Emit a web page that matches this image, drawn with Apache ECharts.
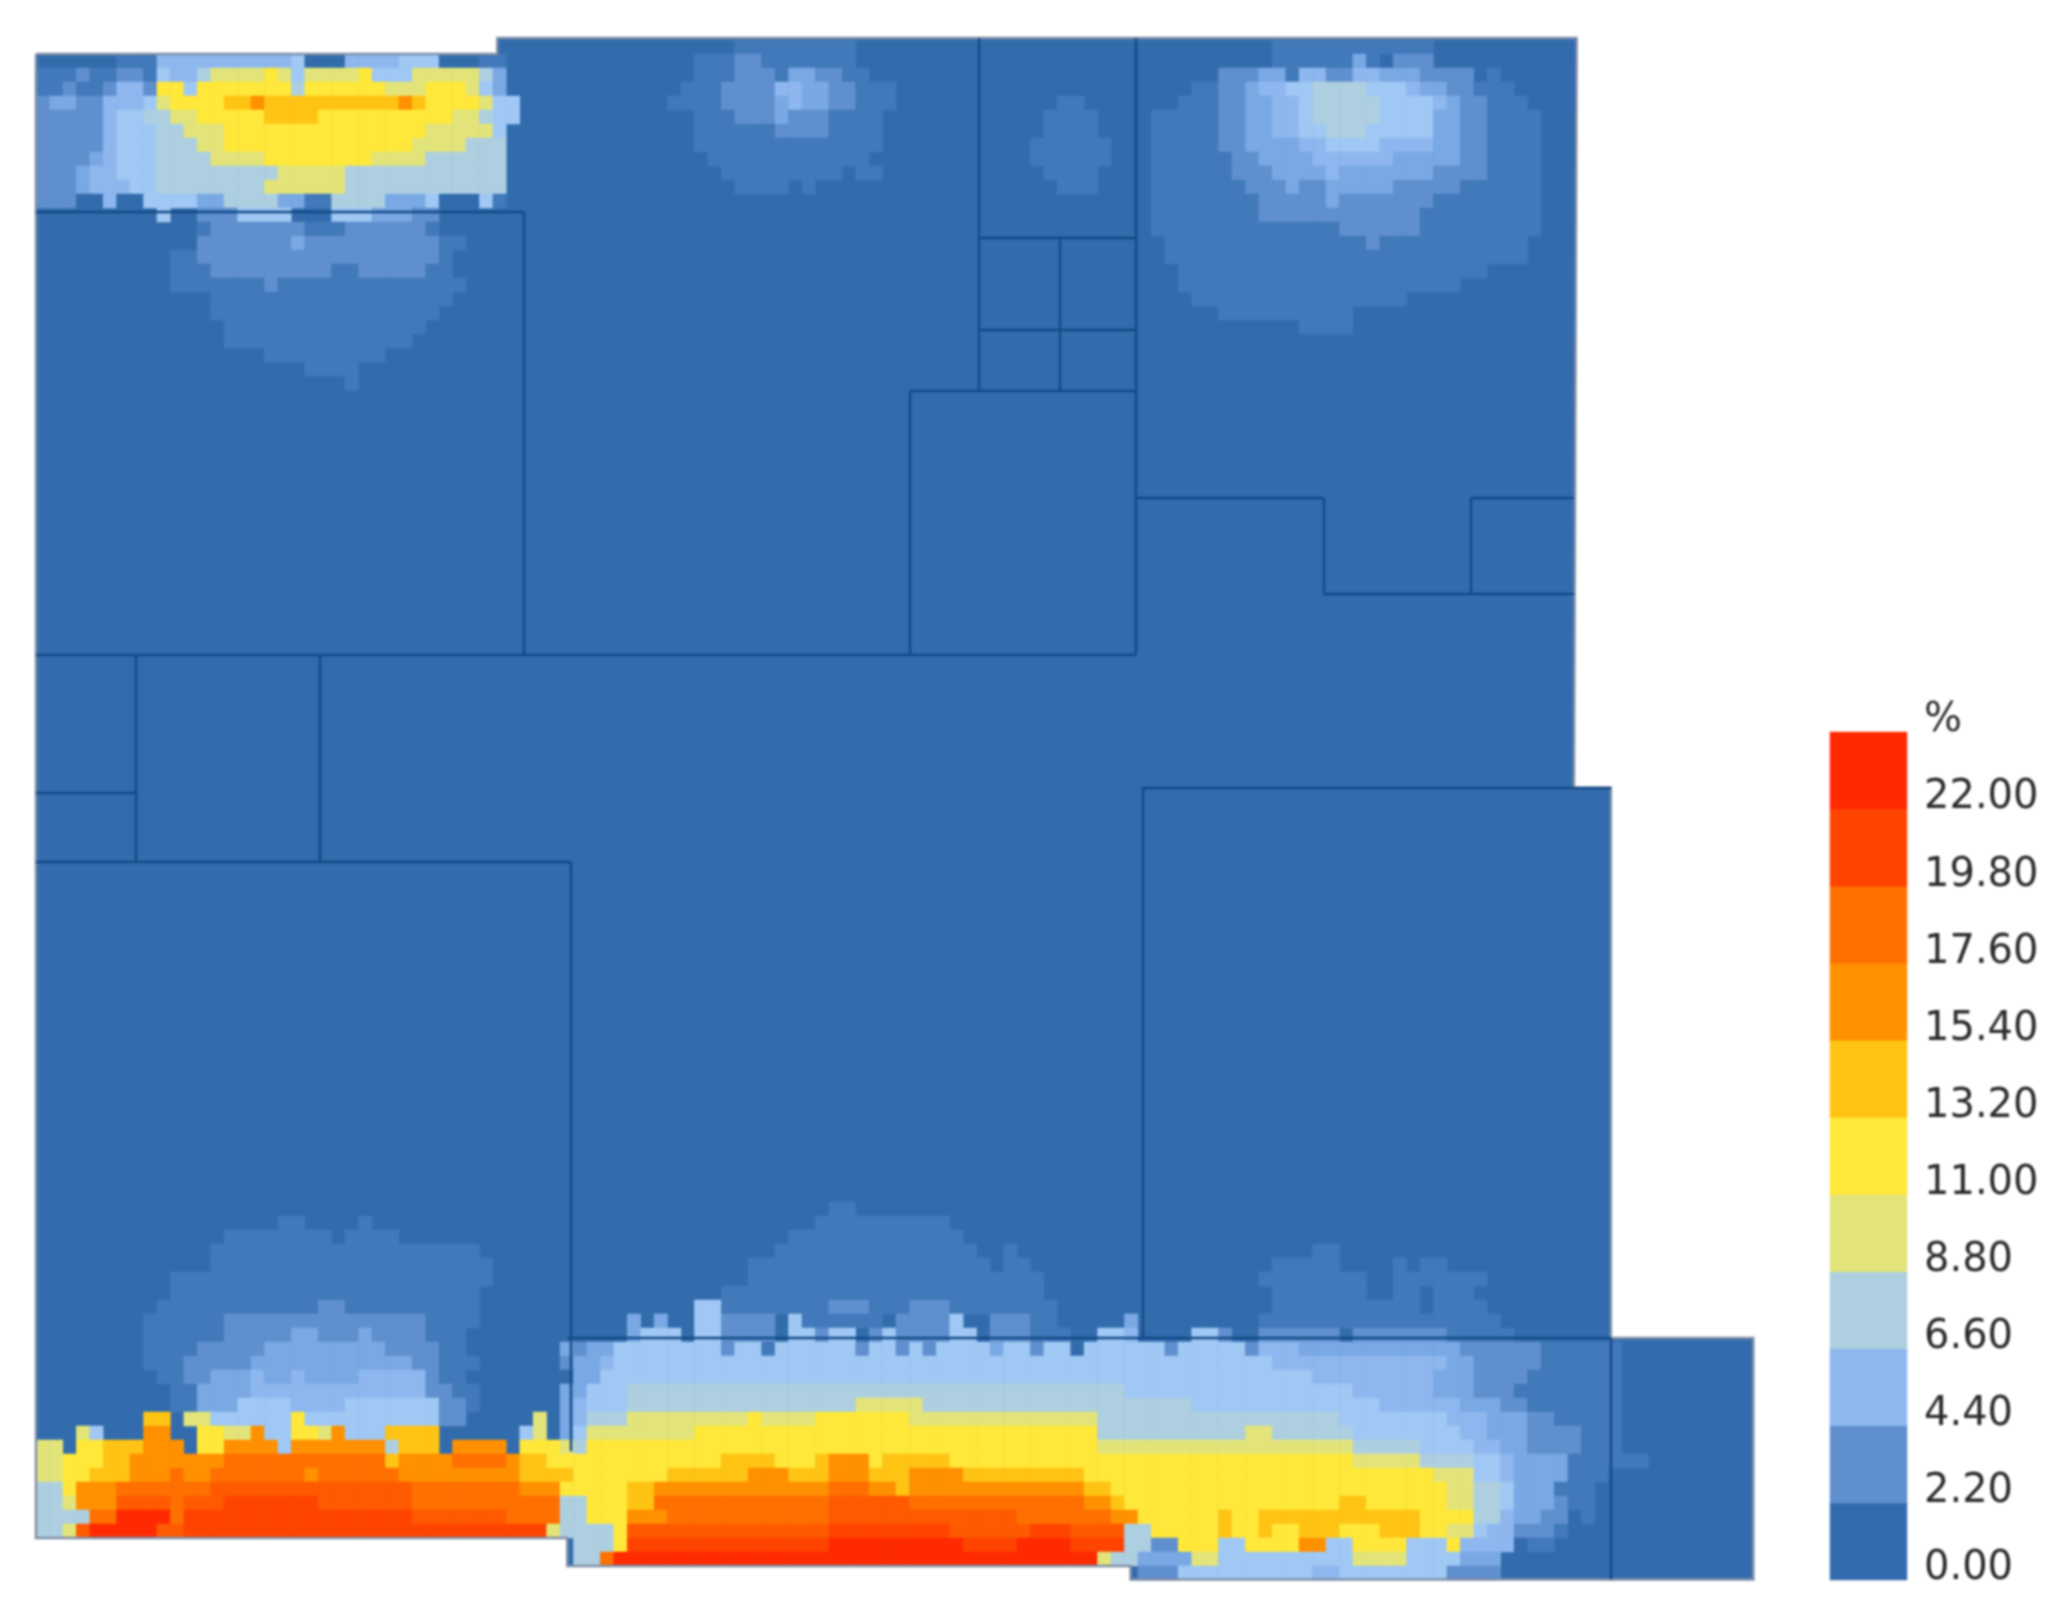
<!DOCTYPE html>
<html><head><meta charset="utf-8">
<script src="https://cdn.jsdelivr.net/npm/echarts@6/dist/echarts.min.js"></script>
<style>html,body{margin:0;background:#fff}#c{width:2069px;height:1611px;filter:blur(1.2px)}</style>
</head><body><div id="c"></div>
<script>
const gridColumnCount = 128;
const gridRowCount = 110;
const legendValues = [0, 2.2, 4.4, 6.6, 8.8, 11, 13.2, 15.4, 17.6, 19.8, 22];
const legendTickLabels = ["0.00","2.20","4.40","6.60","8.80","11.00","13.20","15.40","17.60","19.80","22.00","%"];
const levelCodes = "0123456789abcde";
const levelPercent = [0, 1.1, 2.2, 3.3, 4.4, 5.5, 6.6, 8.8, 11, 13.2, 15.4, 17.6, 18.7, 19.8, 22];
const levelColors = ["#336cad","#4279ba","#5f8fce","#79a8e4","#8db7ee","#a0c8f4","#aecfe0","#e2e47a","#ffe83a","#ffc413","#ff9000","#ff7000","#ff5a00","#ff4400","#ff2a00"];

// Each entry: "row|firstCol-lastCol:level ..."
const northWestRows = [
"1|0-5:0 6-8:1 9-18:4 19:5 20-22:0 23-26:4 27-29:5 30-32:0 33-34:1",
"2|0-2:1 3:2 4-5:1 6-7:2 8:1 9:5 10-11:4 12:6 13-16:7 17:8 18:7 19:5 20-23:7 24:8 25-27:5 28-32:7 33:6 34:3",
"3|0-1:1 2:2 3-4:1 5:2 6-7:4 8:2 9-10:8 11:5 12-18:8 19:6 20-25:8 26-28:7 29-31:8 32:7 33:5 34:3",
"4|0:2 1-2:3 3-4:2 5-7:4 8:5 9:7 10-13:8 14-15:9 16:a 17-26:9 27:a 28:9 29-32:8 33:7 34-35:5",
"5|0-4:2 5:4 6-7:5 8-9:6 10-11:7 12-16:8 17-20:9 21-30:8 31-32:7 33:6 34-35:5",
"6|0-4:2 5:4 6-8:5 9-10:6 11-13:7 14-28:8 29-33:7 34:5",
"7|0-4:2 5:4 6-8:5 9-11:6 12-13:7 14-27:8 28-31:7 32-34:6",
"8|0-3:2 4:3 5:4 6-8:5 9-12:6 13-16:7 17-24:8 25-28:7 29-34:6",
"9|0-2:2 3:3 4-5:4 6-8:5 9-17:6 18-22:7 23-34:6",
"10|0-2:2 3:3 4-6:4 7-8:5 9-16:6 17-22:7 23-34:6",
"11|0-2:2 3-4:0 5:4 6-7:0 8-11:5 12-13:3 14-17:6 18-19:3 20-21:1 22-25:6 26-28:3 29:5 30-32:0 33:5 34:1",
"12|9:5 12-14:2 15-18:5 22-24:5 25-27:3 28-29:2",
"13|12:1 13-19:2 20-22:1 23-28:2 29:1",
"14|12-18:2 19:3 20-29:2 30-31:1",
"15|10-11:1 12-29:2 30:1",
"16|10-12:1 13-21:2 22-23:1 24-28:2 29-30:1",
"17|10-16:1 17:2 18-31:1",
"18|13-30:1",
"19|13-29:1",
"20|14-28:1",
"21|14-27:1",
"22|17-25:1",
"23|20-23:1",
"24|23:1"
];
const northCentreRows = [
"0|52-60:1",
"1|49-51:1 52-53:2 54-60:1",
"2|49-51:1 52-54:2 55:1 56-57:3 58-59:2 60-61:1",
"3|48-50:1 51-54:2 55-56:4 57-58:3 59-60:2 61-63:1",
"4|47-50:1 51-54:2 55:3 56:4 57-58:3 59-60:2 61-63:1 76-77:1",
"5|49-51:1 52-54:2 55:3 56-58:2 59-62:1 75-78:1",
"6|49-54:1 55-58:2 59-62:1 75-78:1",
"7|49-62:1 74-79:1",
"8|50-61:1 74-79:1",
"9|51-59:1 61-62:1 75-78:1",
"10|52-55:1 57:1 76-78:1"
];
const northEastRows = [
"0|92-103:1",
"1|92-97:1 98:3 99:1 101-103:2",
"2|88-90:2 91-92:3 93:1 94-95:4 96-97:2 98-99:4 100-102:3 103-106:2 108:1",
"3|86-87:1 88-89:2 90:3 91-92:4 93-94:5 95-98:6 99-101:5 102:4 103-104:3 105-106:2 107-109:1",
"4|85-87:1 88-89:2 90-91:3 92-93:4 94:5 95-99:6 100-103:5 104:4 105:3 106-107:2 108-110:1",
"5|83-87:1 88-89:2 90-91:3 92-93:4 94:5 95-99:6 100-103:5 104-105:3 106-107:2 108-111:1",
"6|83-87:1 88-89:2 90-91:3 92-93:4 94-95:5 96-98:6 99-103:5 104-105:3 106-107:2 108-111:1",
"7|83-87:1 88-89:2 90-93:3 94-95:4 96-99:5 100-103:4 104-105:3 106-107:2 108-111:1",
"8|83-88:1 89-90:2 91-94:3 95-100:4 101-105:3 106-107:2 108-111:1",
"9|83-88:1 89-91:2 92-95:3 96:4 97-103:3 104-107:2 108-111:1",
"10|83-89:1 90-92:2 93:3 94-95:2 96-100:3 101-105:2 106-111:1",
"11|83-90:1 91-95:2 96:3 97-103:2 104-111:1",
"12|83-90:1 91-102:2 103-111:1",
"13|83-96:1 97-102:2 103-111:1",
"14|84-98:1 99:2 100-110:1",
"15|84-110:1",
"16|85-107:1",
"17|85-105:1",
"18|86-101:1",
"19|88-97:1",
"20|94-97:1"
];
const southWestRows = [
"84|18-19:1 24:1",
"85|14-21:1 23-26:1",
"86|13-32:1",
"87|13-33:1",
"88|10-33:1",
"89|10-32:1",
"90|9-20:1 21-22:2 23-32:1",
"91|8-13:1 14-28:2 29-32:1",
"92|8-13:1 14-18:2 19-20:3 21-23:2 24:3 25-28:2 29-31:1",
"93|8-11:1 12-16:2 17-25:3 26-29:2 30-31:1",
"94|8-10:1 11-15:2 16-27:3 28-29:2 30-32:1",
"95|9-10:1 11-12:2 13-15:3 16:4 17-18:3 19:4 20-23:3 24-28:4 29:2 30-31:1",
"96|10-11:1 12-15:3 16-28:4 29-30:2 31-32:1",
"97|10-11:1 12-14:3 15-18:5 19-22:4 23-29:5 30-31:2 32:1",
"98|8-9:9 11-12:7 13-18:5 19:8 20-29:5 30-31:2 37:7",
"99|3:7 4:5 8-9:a 12-13:8 14-15:7 16:a 17-18:5 19-20:8 21:7 22:a 23-25:5 26-29:9 36:5 37:7",
"100|0-1:7 3-4:8 5-7:9 8-10:a 12-13:8 14-17:a 18:5 19-25:a 26:6 27-29:9 31-34:a 36-38:8",
"101|0-1:7 2-4:8 5-6:9 7-13:a 14-25:b 26:9 27-30:a 31-34:b 35:a 36-37:9 38:8",
"102|0-1:7 2-3:8 4-6:9 7-9:a 10:b 11-12:a 13-19:b 20:a 21-26:b 27-35:a 36-38:9",
"103|0-1:6 2:8 3-5:a 6-12:b 13-27:c 28-35:b 36-38:a",
"104|0-1:6 2:7 3-5:a 6-9:c 10:b 11-13:c 14-20:d 21-27:c 28-38:b",
"105|0-3:6 4-5:b 6-9:e 10:b 11-27:d 28-34:c 35-38:b",
"106|0-1:6 2:7 3:c 4-8:e 9-10:c 11-37:d 38:7"
];
const southCentreRows = [
"83|59-60:1",
"84|58-67:1",
"85|56-68:1",
"86|55-69:1 72:1",
"87|53-70:1 72-73:1",
"88|53-74:1",
"89|51-74:1",
"90|49-50:5 51-58:1 59-61:2 62-64:1 65-67:2 68-75:1",
"91|44:3 46:3 49-50:5 51-54:2 56:5 57-62:1 64-67:2 68:5 71-73:2 74-75:1",
"92|44:3 45-47:5 49-50:5 51-54:2 56-57:5 58:2 59-60:5 62:2 63:5 64-67:2 68-69:5 71-73:2 74-76:1 79-80:5",
"93|39:3 40:2 41-42:3 43-50:5 51:2 52-53:5 54:1 55-60:5 61:2 62-63:5 64:2 65:5 66:2 67-70:5 71:3 72-73:5 74:2 75-76:5 77:0 78-80:5",
"94|39:2 40-41:3 42:4 43-80:5",
"95|39:0 40-41:3 42-80:5",
"96|39-40:3 41-43:5 44-80:6",
"97|39:3 40:4 41-43:5 44-60:6 61-65:7 66-80:6",
"98|39:3 40:4 41-43:6 44-52:7 53:8 54-57:7 58-64:8 65-78:7 79-80:6",
"99|39:3 40:5 41-48:7 49-78:8 79-80:6",
"100|39:7 40:6 41-78:8 79-80:7",
"101|39-50:8 51-54:9 55-57:8 58:9 59-61:a 62:8 63-67:9 68-80:8",
"102|39:9 40-46:8 47-52:9 53-55:a 56-58:9 59-61:a 62-64:9 65-68:a 69-77:9 78-80:8",
"103|39-43:8 44-45:9 46-58:a 59-61:b 62-63:a 64:9 65-77:a 78-79:9 80:8",
"104|39-40:6 41-43:8 44-45:9 46-58:b 59-64:c 65-77:b 78-79:a 80:9",
"105|39-40:6 41-43:8 44-46:a 47-58:b 59-72:c 73-79:b 80:a",
"106|39-42:6 43:8 44-58:c 59-67:d 68-73:c 74-76:d 77-80:c",
"107|40-42:6 43:8 44-58:d 59-68:e 69-72:d 73-76:e 77-80:d",
"108|40-41:6 42:b 43-78:e 79:7 80:6"
];
const southEastRows = [
"86|95-96:1",
"87|92-96:1 101:1 103-104:1",
"88|91-98:1 101-107:1",
"89|92-98:1 101-102:1 104-106:1",
"90|92-102:1 104-107:1",
"91|81:3 91-108:1",
"92|81:4 86-87:5 88:2 91-96:2 98-104:2 105-109:1",
"93|81-83:5 84:2 85-89:5 90:2 91-93:4 94-105:3 106-111:2 112-117:1",
"94|81-91:5 92-104:4 105-106:3 107-111:2 112-117:1",
"95|81-94:5 95-103:4 104-106:3 107-110:2 111-117:1",
"96|81-97:5 98-103:4 104-106:3 107-109:2 110-117:1",
"97|81-85:6 86-99:5 100-105:4 106-108:3 109-110:2 111-117:1",
"98|81-96:6 97-104:5 105-107:4 108-110:3 111-112:2 113-117:1",
"99|81-89:6 90-91:7 92-97:6 98-105:5 106-107:4 108-110:3 111-114:2 115-117:1",
"100|81-97:7 98-102:6 103-106:5 107-108:4 109-110:3 111-114:2 115-117:1",
"101|81-97:8 98-102:7 103-106:6 107-108:5 109:4 110-113:3 114-119:1",
"102|81-103:8 104-106:7 107-108:5 109:4 110-113:3 114-116:1",
"103|81-104:8 105-106:7 107-108:6 109:5 110-112:3 113-115:1",
"104|81-96:8 97-98:9 99-104:8 105-106:7 107-108:6 109:5 110-112:3 113:2 114-115:1",
"105|81:a 82-87:8 88:9 89-90:8 91-102:9 103-106:8 107-108:6 109:4 110-111:3 112-113:2 115:1",
"106|81-82:6 83-87:8 88:9 89-90:8 91:9 92-93:8 94-96:9 97-99:8 100-102:9 103-104:8 105-106:7 107:5 108-109:4 110-112:2 113:1",
"107|81-82:6 83-84:2 85-87:8 88-89:5 90-93:8 94-95:a 96-97:5 98-101:8 102-104:5 105:8 106-109:4 110:0 111-112:1",
"108|81:6 82-85:3 86-87:7 88-97:5 98-101:7 102-105:5 106-108:3",
"109|82-84:2 85-94:5 95-96:4 97-104:5 105-108:2"
];

// Plate outline and inner zone walls, in grid-cell units
const plateOutline = [[0,1],[34.33,1],[34.33,-0.14],[114.65,-0.14],[114.45,53.41],[117.2,53.41],[117.2,92.71],[127.8,92.71],[127.8,109.96],[81.46,109.96],[81.46,109],[39.54,109],[39.54,107],[0,107],[0,1]];
const zoneWalls = [
[0,12.3,36.3,12.3],[36.3,12.3,36.3,43.9],[0,43.9,81.85,43.9],[65.06,25.04,65.06,43.9],[65.06,25.04,81.85,25.04],
[81.85,-0.14,81.85,43.9],[70.17,-0.14,70.17,25.04],[70.17,14.1,81.85,14.1],[70.17,20.7,81.85,20.7],[76.16,14.1,76.16,25.04],
[81.85,32.7,95.8,32.7],[95.8,32.7,95.8,39.55],[95.8,39.55,114.45,39.55],[106.79,32.7,106.79,39.55],[106.79,32.7,114.45,32.7],
[7.43,43.9,7.43,58.69],[21.08,43.9,21.08,58.69],[0,53.79,7.43,53.79],[0,58.69,39.83,58.69],[39.83,58.69,39.83,100.8],
[82.34,53.41,117.2,53.41],[82.34,53.41,82.34,92.71],[39.54,92.71,117.2,92.71],[117.2,92.71,117.2,109.96]
];

const cellMap = new Map();
[northWestRows, northCentreRows, northEastRows, southWestRows, southCentreRows, southEastRows].forEach(zone => {
  zone.forEach(entry => {
    const [row, spans] = entry.split('|');
    spans.split(' ').forEach(span => {
      const [range, code] = span.split(':');
      const [a, b] = range.split('-').map(Number);
      for (let c = a; c <= (b === undefined ? a : b); c++) {
        cellMap.set(c + ',' + row, [c, +row, levelPercent[levelCodes.indexOf(code)]]);
      }
    });
  });
});
const heatData = Array.from(cellMap.values());
const legendData = legendValues.map((v, i) => [0, i, v]);
const colCats = Array.from({length: gridColumnCount}, (_, i) => i);
const rowCats = Array.from({length: gridRowCount}, (_, i) => i);

const plate = {left: 36, top: 40, width: 1720, height: 1540};
const legendBox = {left: 1830, top: 732, width: 77, height: 848};
const hidden = {show: false};

const chart = echarts.init(document.getElementById('c'), null, {renderer: 'canvas'});
chart.setOption({
  animation: false,
  backgroundColor: '#ffffff',
  tooltip: {show: false},
  grid: [plate, plate, legendBox].map(g => Object.assign({containLabel: false}, g)),
  xAxis: [
    Object.assign({type: 'category', data: colCats, gridIndex: 0}, hidden),
    Object.assign({type: 'value', min: 0, max: gridColumnCount, gridIndex: 1}, hidden),
    Object.assign({type: 'category', data: ['%'], gridIndex: 2}, hidden)
  ],
  yAxis: [
    Object.assign({type: 'category', data: rowCats, inverse: true, gridIndex: 0}, hidden),
    Object.assign({type: 'value', min: 0, max: gridRowCount, inverse: true, gridIndex: 1}, hidden),
    Object.assign({type: 'category', data: legendValues, gridIndex: 2}, hidden),
    {
      type: 'value', gridIndex: 2, position: 'right', min: 0, max: 11, interval: 1,
      axisLine: {show: false}, axisTick: {show: false}, splitLine: {show: false},
      axisLabel: {
        show: true, margin: 17, fontFamily: 'DejaVu Sans', fontSize: 40, color: '#2b2b2b',
        verticalAlign: 'bottom', lineHeight: 40, padding: [0, 0, -9, 0],
        formatter: v => legendTickLabels[Math.round(v)]
      }
    }
  ],
  visualMap: {
    type: 'piecewise', show: false, seriesIndex: [1, 3], dimension: 2,
    pieces: levelPercent.map((v, i) => ({value: v, color: levelColors[i]}))
  },
  series: [
    {
      type: 'custom', name: 'plate', xAxisIndex: 1, yAxisIndex: 1, z: 1, silent: true,
      data: [[0, 0]],
      renderItem: (params, api) => ({
        type: 'polygon',
        shape: {points: plateOutline.map(p => api.coord(p))},
        style: {fill: levelColors[0], stroke: null}
      })
    },
    {
      type: 'heatmap', name: 'share', xAxisIndex: 0, yAxisIndex: 0, z: 2, silent: true,
      data: heatData, progressive: 0, itemStyle: {borderWidth: 0}, emphasis: {disabled: true}
    },
    {
      type: 'lines', name: 'outline', coordinateSystem: 'cartesian2d', xAxisIndex: 1, yAxisIndex: 1, z: 3, silent: true,
      clip: false, polyline: true,
      lineStyle: {color: '#7f8ea6', width: 2.5, opacity: 1},
      data: [{coords: plateOutline}]
    },
    {
      type: 'heatmap', name: 'legend', xAxisIndex: 2, yAxisIndex: 2, z: 2, silent: true,
      data: legendData, progressive: 0, emphasis: {disabled: true}
    },
    {
      type: 'lines', name: 'walls', coordinateSystem: 'cartesian2d', xAxisIndex: 1, yAxisIndex: 1, z: 4, silent: true,
      clip: false,
      lineStyle: {color: '#134a88', width: 2.4, opacity: 1},
      data: zoneWalls.map(w => ({coords: [[w[0], w[1]], [w[2], w[3]]]}))
    }
  ]
});
</script></body></html>
